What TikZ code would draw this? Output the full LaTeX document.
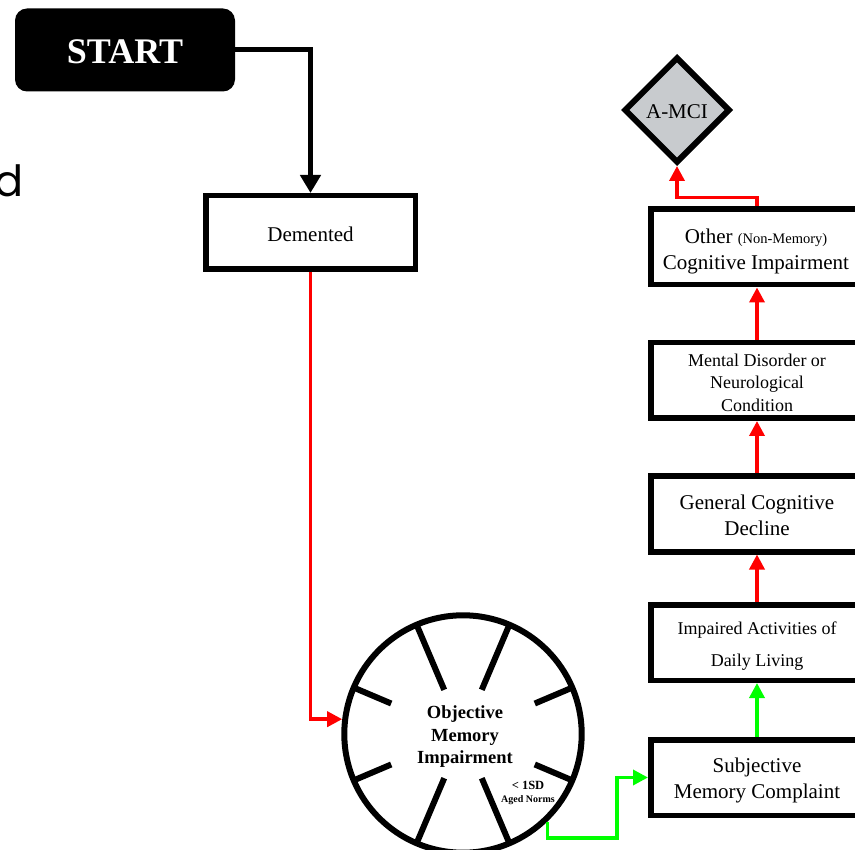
\documentclass[tikz,border=0pt]{standalone}
\usepackage{fontspec}
\setmainfont{Liberation Serif}
\newfontfamily\popfont{Poppins}
\usetikzlibrary{arrows.meta,shapes.geometric,calc}
\definecolor{amcigray}{RGB}{200,203,206}
\definecolor{pgreen}{RGB}{0,255,0}
\definecolor{pred}{RGB}{255,0,0}
\begin{document}
\begin{tikzpicture}[x=1pt,y=-1pt,
  box/.style={draw=black,line width=5.5pt,fill=white,inner sep=0pt,
    minimum width=212.5pt,minimum height=75.5pt},
  boxtxt/.style={inner sep=0pt,align=center,font=\fontsize{21}{26}\selectfont},
  redarr/.style={draw=pred,line width=3.5pt,-{Triangle[width=15pt,length=15pt]}},
  greenarr/.style={draw=pgreen,line width=3.5pt,-{Triangle[width=15pt,length=15pt]}},
  blackarr/.style={draw=black,line width=5pt,-{Triangle[width=20pt,length=18pt]}},
  spoke/.style={line width=6pt},
  smalltxt/.style={inner sep=0pt,font=\bfseries}
]
\useasboundingbox (0,0) rectangle (855,850);
\clip (0,0) rectangle (855,850);
\fill[white] (0,0) rectangle (855,850);

% left partial text
\node[font=\popfont\fontsize{43}{50}\selectfont,anchor=base east,inner sep=0pt] (dd) at (24,197) {d};

% start
\node[fill=black,rounded corners=12pt,minimum width=220pt,minimum height=83pt,inner sep=0pt] (start) at (125,50) {};
\node[boxtxt,text=white,font=\bfseries\fontsize{36}{40}\selectfont] (startT) at (125,52) {START};

% demented
\node[box,minimum width=209.5pt,minimum height=73.5pt] (dem) at (310.5,232.5) {};
\node[boxtxt] (demT) at (310.5,234.5) {Demented};

% circle
\node[circle,draw=black,line width=6pt,fill=white,minimum size=237.4pt,inner sep=0pt] (omi) at (463,734) {};
\foreach \a/\ri in {67/48,113/48,-67/48,-113/48,23/78,157/78,-23/78,-157/78}
  \draw[spoke] ($(omi.center)+(\a:\ri)$) -- ($(omi.center)+(\a:118)$);
\node[align=center,inner sep=0pt,font=\bfseries\fontsize{18.5}{22.5}\selectfont] (omitxt) at (465,737) {Objective\\Memory\\Impairment};
\node[smalltxt,font=\bfseries\fontsize{12.5}{15}\selectfont] (sd1) at (528,785) {< 1SD};
\node[smalltxt,font=\bfseries\fontsize{10}{12}\selectfont] (sd2) at (528,800.5) {Aged Norms};

% right column
\node[box] (other) at (757,247) {};
\node[boxtxt] (otherT) at (756,251) {Other {\fontsize{14.5}{17}\selectfont (Non-Memory)}\\Cognitive Impairment};
\node[box] (mental) at (757,380.5) {};
\node[boxtxt,font=\fontsize{18}{22.5}\selectfont] (mentalT) at (757,382.5) {Mental Disorder or\\Neurological\\Condition};
\node[box] (gcd) at (757,514) {};
\node[boxtxt] (gcdT) at (757,515) {General Cognitive\\Decline};
\node[box] (adl) at (757,642.5) {};
\node[boxtxt,font=\fontsize{18}{32}\selectfont] (adlT) at (757,646.5) {Impaired Activities of\\Daily Living};
\node[box] (smc) at (757,777.5) {};
\node[boxtxt] (smcT) at (757,780.5) {Subjective\\Memory Complaint};

% diamond
\node[diamond,draw=black,line width=6pt,fill=amcigray,minimum width=106pt,minimum height=106pt,
  inner sep=0pt] (amci) at (677,110) {};
\node[boxtxt] (amciT) at (677,112) {A-MCI};

% connectors
\coordinate (g1) at (617,838);
\draw[blackarr] (start.east) -| (dem.north);
\draw[redarr] (dem.south) |- (omi.173);
\draw[greenarr] (omi.-46) |- (g1) |- (smc.west);
\draw[greenarr] (smc.north) -- (adl.south);
\draw[redarr] (adl.north) -- (gcd.south);
\draw[redarr] (gcd.north) -- (mental.south);
\draw[redarr] (mental.north) -- (other.south);
\draw[redarr] (other.north) -- ++(0,-9) -| (amci.south);
\end{tikzpicture}
\end{document}
